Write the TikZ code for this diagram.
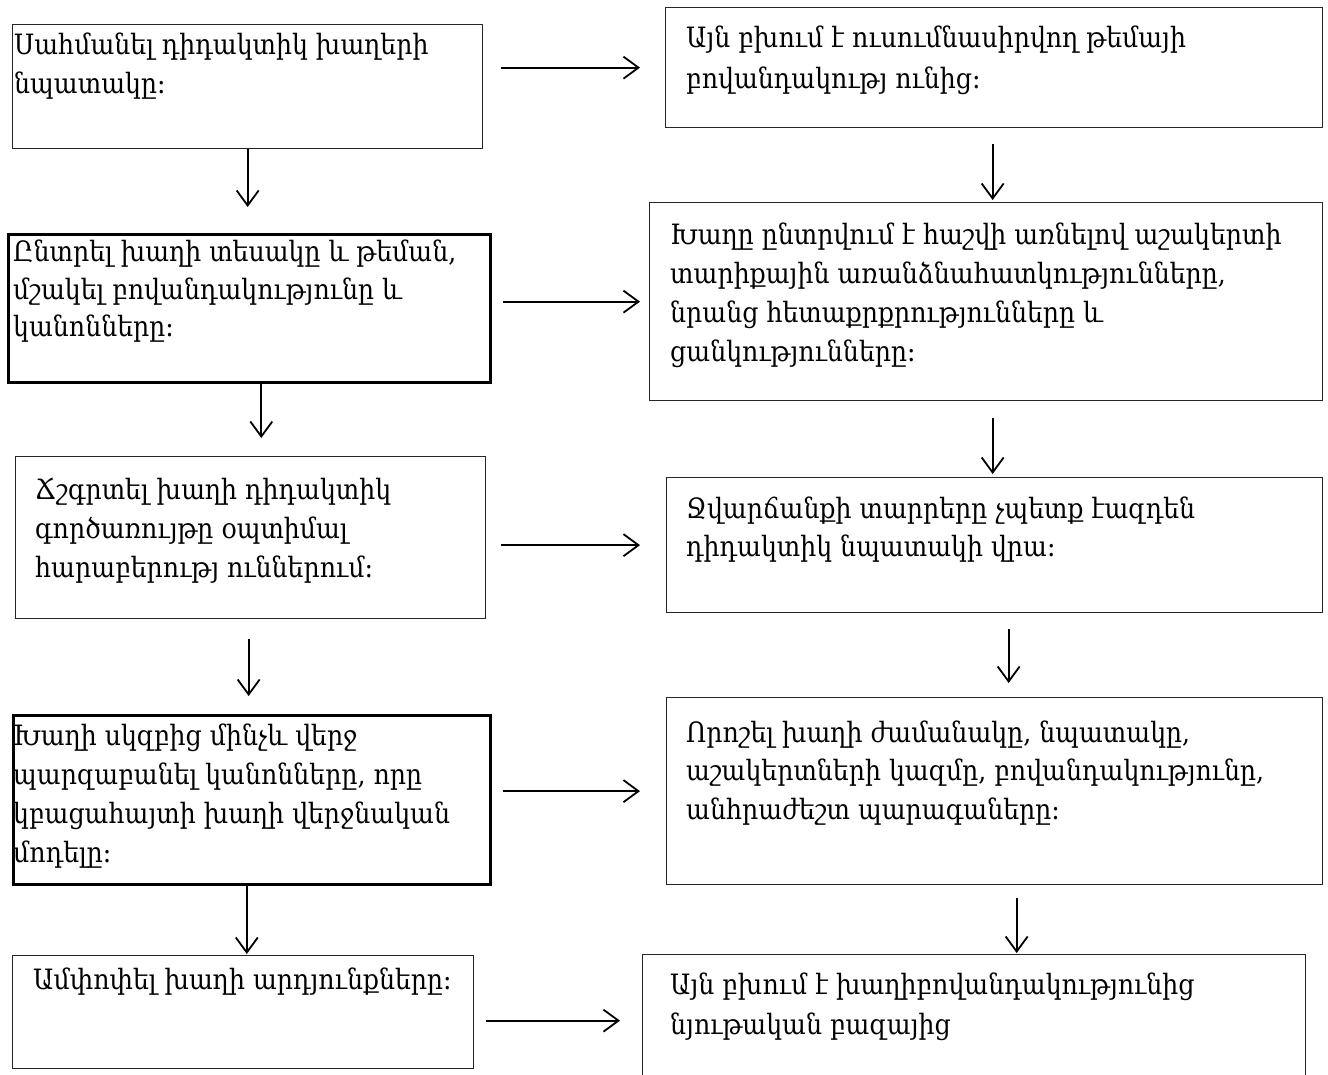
\documentclass[tikz,border=0pt]{standalone}
\usepackage{fontspec}
\setmainfont{DejaVu Serif}[FakeStretch=0.9]
\usetikzlibrary{arrows.meta}
\tikzset{
  box/.style={draw=black!85, line width=1.3pt, inner sep=0pt, anchor=north west},
  boxthick/.style={box, draw=black, line width=2.6pt},
  txt/.style={anchor=base west, inner sep=0pt, font=\fontsize{28}{38.5}\selectfont},
  arr/.style={line width=1.8pt, -{Straight Barb[length=15pt,width=22pt,line width=1.8pt]}},
}
\begin{document}
\begin{tikzpicture}[x=1pt,y=-1pt]
\clip (0,0) rectangle (1328,1075);
\fill[white] (0,0) rectangle (1328,1075);

% left column
\node[box,      minimum width=470pt, minimum height=124pt] (L1) at (12,24)  {};
\node[boxthick, minimum width=482pt, minimum height=148pt] (L2) at (7,233)  {};
\node[box,      minimum width=470pt, minimum height=162pt] (L3) at (15,456) {};
\node[boxthick, minimum width=477pt, minimum height=169pt] (L4) at (12,714) {};
\node[box,      minimum width=461pt, minimum height=113pt] (L5) at (12,955) {};

% right column
\node[box, minimum width=657pt, minimum height=120pt] (R1) at (665,7)   {};
\node[box, minimum width=673pt, minimum height=198pt] (R2) at (649,202) {};
\node[box, minimum width=656pt, minimum height=135pt] (R3) at (666,477) {};
\node[box, minimum width=656pt, minimum height=187pt] (R4) at (666,697) {};
\node[box, minimum width=663pt, minimum height=132pt] (R5) at (642,954) {};

% texts
\node[txt] (tL1) at (14,55) {\parbox[t]{465pt}{Սահմանել դիդակտիկ խաղերի\\նպատակը:}};
\node[txt] (tL2) at (13,262) {\parbox[t]{470pt}{\baselineskip=37.5pt Ընտրել խաղի տեսակը և թեման,\\մշակել բովանդակությունը և\\կանոնները:}};
\node[txt] (tL3) at (35,499) {\parbox[t]{445pt}{\baselineskip=39pt Ճշգրտել խաղի դիդակտիկ\\գործառույթը օպտիմալ\\հարաբերությ ուններում:}};
\node[txt] (tL4) at (13,745) {\parbox[t]{470pt}{\baselineskip=39pt Խաղի սկզբից մինչև վերջ\\պարզաբանել կանոնները, որը\\կբացահայտի խաղի վերջնական\\մոդելը:}};
\node[txt] (tL5) at (33,989) {Ամփոփել խաղի արդյունքները:};

\node[txt] (tR1) at (686,48) {\parbox[t]{630pt}{\baselineskip=41pt Այն բխում է ուսումնասիրվող թեմայի\\բովանդակությ ունից:}};
\node[txt] (tR2) at (670,245) {\parbox[t]{645pt}{\baselineskip=39pt Խաղը ընտրվում է հաշվի առնելով աշակերտի\\տարիքային առանձնահատկությունները,\\նրանց հետաքրքրությունները և\\ցանկությունները:}};
\node[txt] (tR3) at (686,518) {\parbox[t]{630pt}{Ջվարճանքի տարրերը չպետք էազդեն\\դիդակտիկ նպատակի վրա:}};
\node[txt] (tR4) at (686,742) {\parbox[t]{630pt}{Որոշել խաղի ժամանակը, նպատակը,\\աշակերտների կազմը, բովանդակությունը,\\անհրաժեշտ պարագաները:}};
\node[txt] (tR5) at (670,994) {\parbox[t]{630pt}{\baselineskip=40pt Այն բխում է խաղիբովանդակությունից\\նյութական բազայից}};

% horizontal connectors
\draw[arr, shorten <=18pt, shorten >=25pt] (L1.east |- R1.west) -- (R1.west);
\draw[arr, shorten <=11pt, shorten >=9pt]  (L2.east |- R2.west) -- (R2.west);
\draw[arr, shorten <=15pt, shorten >=26pt] (L3.east |- R3.west) -- (R3.west);
\draw[arr, shorten <=11pt, shorten >=26pt] (L4.east |- R4.west) -- (R4.west);
\draw[arr, shorten <=12pt, shorten >=22pt] (L5.east |- R5.west) -- (R5.west);

% vertical connectors, left column
\draw[arr, shorten >=26pt] (L1.south) -- (L1.south |- L2.north);
\draw[arr, shorten >=18pt] ([xshift=12pt]L2.south) -- ([xshift=12pt]L2.south |- L3.north);
\draw[arr, shorten <=20pt, shorten >=18pt] ([xshift=-2pt]L3.south) -- ([xshift=-2pt]L3.south |- L4.north);
\draw[arr, shorten >=1pt] ([xshift=-5pt]L4.south) -- ([xshift=-5pt]L4.south |- L5.north);

% vertical connectors, right column
\draw[arr, shorten <=16pt, shorten >=2pt]  ([xshift=-1.5pt]R1.south) -- ([xshift=-1.5pt]R1.south |- R2.north);
\draw[arr, shorten <=17pt, shorten >=3pt]  ([xshift=6.5pt]R2.south) -- ([xshift=6.5pt]R2.south |- R3.north);
\draw[arr, shorten <=16pt, shorten >=14pt] ([xshift=14pt]R3.south) -- ([xshift=14pt]R3.south |- R4.north);
\draw[arr, shorten <=13pt, shorten >=1pt]  ([xshift=22pt]R4.south) -- ([xshift=22pt]R4.south |- R5.north);
\end{tikzpicture}
\end{document}
